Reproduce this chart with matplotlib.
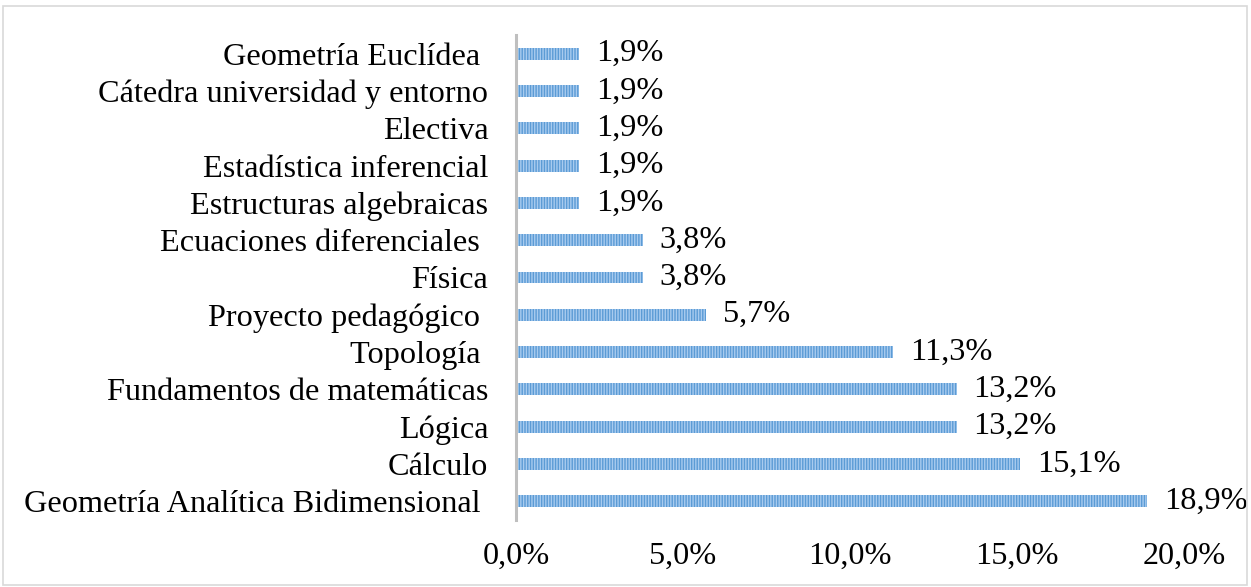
import numpy as np
import matplotlib.pyplot as plt
from matplotlib.patches import Rectangle

# bottom to top, as drawn
labels = ['Geometría Analítica Bidimensional ', 'Cálculo', 'Lógica',
          'Fundamentos de matemáticas', 'Topología ', 'Proyecto pedagógico ',
          'Física', 'Ecuaciones diferenciales ', 'Estructuras algebraicas',
          'Estadística inferencial', 'Electiva', 'Cátedra universidad y entorno',
          'Geometría Euclídea ']
values = [18.9, 15.1, 13.2, 13.2, 11.3, 5.7, 3.8, 3.8, 1.9, 1.9, 1.9, 1.9, 1.9]
xticks = [0, 5, 10, 15, 20]

plt.rcParams['font.family'] = ['Liberation Serif', 'DejaVu Serif']
plt.rcParams['hatch.color'] = '#a8cbef'
plt.rcParams['hatch.linewidth'] = 1.0

fs = 23.2
fig = plt.figure(figsize=(12.51, 5.87), dpi=100)
ax = fig.add_axes([516/1251, 1-520/587, (1184-516)/1251, (520-35)/587])

y = np.arange(len(labels))
ax.barh(y, values, height=0.32, color='#5b9bd5', hatch='||||||', linewidth=0)

for yi, v in zip(y, values):
    ax.text(v + 0.5, yi, ('%.1f%%' % v).replace('.', ','), fontsize=fs,
            va='center', ha='left', clip_on=False)

ax.set_xlim(0, 20)
ax.set_ylim(-0.5, 12.5)
ax.set_yticks(y)
ax.set_yticklabels(labels, fontsize=fs)
ax.set_xticks(xticks)
ax.set_xticklabels([('%.1f%%' % t).replace('.', ',') for t in xticks], fontsize=fs)
ax.tick_params(axis='y', length=0, pad=20)
ax.tick_params(axis='x', length=0, pad=16)

for s in ['top', 'right', 'bottom']:
    ax.spines[s].set_visible(False)
ax.spines['left'].set_color('#bfbfbf')
ax.spines['left'].set_linewidth(2.2)

fig.patches.append(Rectangle((3/1251, 2/587), 1244/1251, 579/587, transform=fig.transFigure,
                             fill=False, edgecolor='#d9d9d9', linewidth=1.2))

fig.savefig('out.png', dpi=100)
